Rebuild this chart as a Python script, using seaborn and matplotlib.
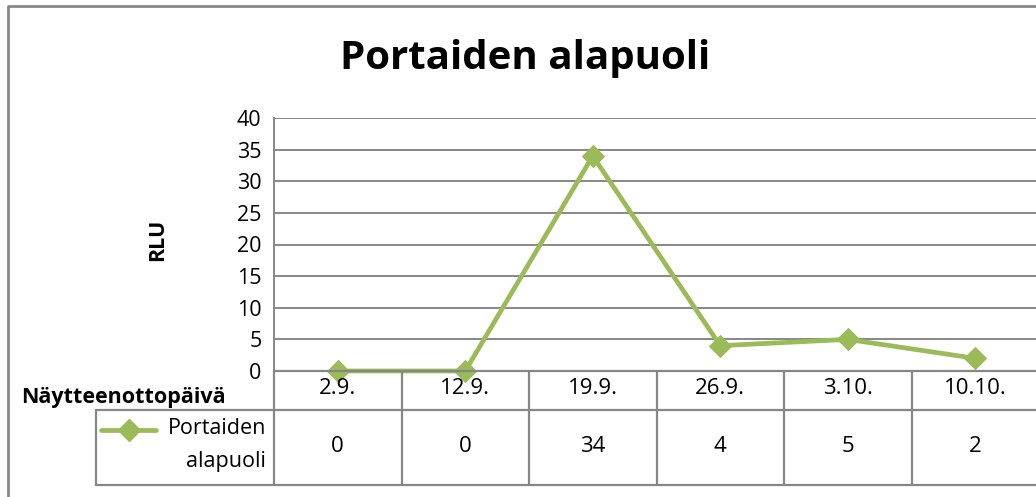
import matplotlib
matplotlib.use("Agg")
import matplotlib.pyplot as plt
import seaborn as sns
import pandas as pd
from matplotlib.lines import Line2D

# data
dates = ["2.9.", "12.9.", "19.9.", "26.9.", "3.10.", "10.10."]
rlu = [0, 0, 34, 4, 5, 2]
series_name = "Portaiden alapuoli"

df = pd.DataFrame({"pos": range(len(dates)), "RLU": rlu})

sns.set_style("white")
plt.rcParams["font.family"] = ["Open Sans", "DejaVu Sans"]
plt.rcParams["text.color"] = "black"

W, H = 1036, 497
fig = plt.figure(figsize=(W / 100, H / 100), dpi=100)

def fx(px):
    return px / W

def fy(py):
    return 1 - py / H

grey = "#878787"
green = "#9BBB59"
fs = 15.5

# plot area in pixels
left, right, top, bottom = 274, 1039, 118, 371
ax = fig.add_axes([fx(left), fy(bottom), fx(right - left), fy(top) - fy(bottom)])

sns.lineplot(data=df, x="pos", y="RLU", ax=ax, color=green, linewidth=3.4,
             marker="D", markersize=11, markeredgecolor=green, clip_on=False, zorder=5)

ax.set_xlim(-0.5, len(dates) - 0.5)
ax.set_ylim(0, 40)
ax.set_yticks(range(0, 41, 5))
ax.set_xticks([])
ax.set_xlabel("")
ax.set_ylabel("")
ax.tick_params(axis="y", labelsize=fs, length=0, pad=9, labelcolor="black")
ax.yaxis.grid(True, color=grey, linewidth=1.4)
ax.set_axisbelow(True)
for s in ["top", "right", "bottom"]:
    ax.spines[s].set_visible(False)
ax.spines["left"].set_color(grey)
ax.spines["left"].set_linewidth(1.4)

# chart title and axis title
fig.text(fx(525), fy(58), series_name, ha="center", va="center",
         fontsize=29, fontweight="bold")
fig.text(fx(158), fy(240), "RLU", rotation=90, ha="center", va="center",
         fontsize=fs, fontweight="bold")

# data table below the plot
row1, row2 = 410, 485
cell_w = (right - left) / len(dates)

def hline(x0, x1, y):
    fig.add_artist(Line2D([fx(x0), fx(x1)], [fy(y), fy(y)], color=grey, lw=1.6,
                          transform=fig.transFigure))

def vline(x, y0, y1):
    fig.add_artist(Line2D([fx(x), fx(x)], [fy(y0), fy(y1)], color=grey, lw=1.6,
                          transform=fig.transFigure))

hline(left, right, bottom)
hline(96, right, row1)
hline(96, right, row2)
vline(left, bottom, row2)
vline(96, row1, row2)
for k in range(1, len(dates)):
    vline(left + k * cell_w, bottom, row2)

for k, (d, v) in enumerate(zip(dates, rlu)):
    cx = left + (k + 0.5) * cell_w
    fig.text(fx(cx), fy(389), d, ha="center", va="center", fontsize=16)
    fig.text(fx(cx), fy(446), str(v), ha="center", va="center", fontsize=16)

fig.text(fx(226), fy(397), "Näytteenottopäivä", ha="right", va="center",
         fontsize=fs, fontweight="bold")

# legend key inside the table
fig.add_artist(Line2D([fx(101), fx(156)], [fy(430), fy(430)], color=green, lw=3.4,
                      transform=fig.transFigure))
fig.add_artist(Line2D([fx(128.5)], [fy(430)], color=green, marker="D", markersize=11,
                      linestyle="none", transform=fig.transFigure))
fig.text(fx(266), fy(429), "Portaiden", ha="right", va="center", fontsize=fs)
fig.text(fx(266), fy(462), "alapuoli", ha="right", va="center", fontsize=fs)

# outer chart border
fig.add_artist(Line2D([fx(8), fx(8), fx(1040)], [fy(500), fy(6), fy(6)], color=grey,
                      lw=2, transform=fig.transFigure))

fig.savefig("out.png", dpi=100)
